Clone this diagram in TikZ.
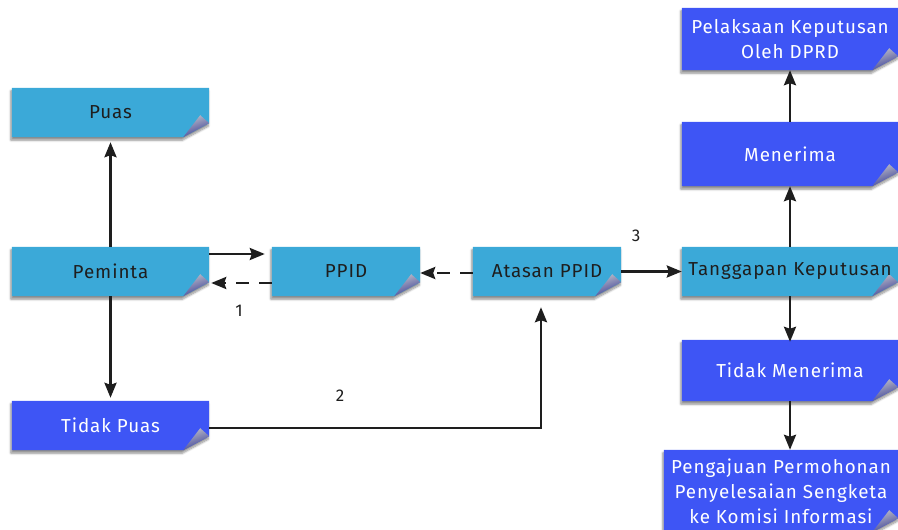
\documentclass[tikz,border=0pt]{standalone}
\usepackage{fontspec}
\setmainfont{Fira Sans}[LetterSpace=5]
\usetikzlibrary{arrows.meta,shadows.blur,backgrounds}
\definecolor{lblue}{RGB}{59,169,216}
\definecolor{dblue}{RGB}{62,85,245}
\definecolor{foldtop}{RGB}{190,190,200}
\definecolor{foldbot}{RGB}{55,60,150}
\definecolor{ink}{RGB}{30,30,30}
\tikzset{
  card/.style={inner sep=0pt, align=center, font=\fontsize{18.8}{25}\selectfont},
  lcard/.style={card, text=ink},
  dcard/.style={card, text=white},
  arr/.style={draw=ink, line width=2.6pt, -{Stealth[length=15pt,width=12pt,inset=2pt]}},
  darr/.style={arr, dash pattern=on 13pt off 10pt},
  lbl/.style={font=\fontsize{17}{17}\selectfont, text=ink},
}
\newcommand{\cardbg}[2]{%
  \fill[#2, blur shadow={shadow xshift=-1pt, shadow yshift=-3pt, shadow blur steps=8, shadow opacity=45}]
    (#1.north west) -- (#1.north east) -- ([yshift=14pt]#1.south east)
    -- ([xshift=-26pt]#1.south east) -- (#1.south west) -- cycle;
  \shade[top color=foldtop, bottom color=foldbot, shading angle=20]
    ([xshift=-26pt]#1.south east) -- ([xshift=-9pt,yshift=22pt]#1.south east)
    -- ([yshift=14pt]#1.south east) -- cycle;
}
\begin{document}
\begin{tikzpicture}[x=1pt,y=-1pt]
\useasboundingbox (0,0) rectangle (898,530);
\node[lcard, minimum width=197pt, minimum height=49pt] (puas) at (110.5,112.5) {Puas};
\node[lcard, minimum width=197pt, minimum height=49pt] (peminta) at (110.5,271.5) {Peminta};
\node[lcard, minimum width=148pt, minimum height=49pt] (ppid) at (346,271.5) {PPID};
\node[lcard, minimum width=148pt, minimum height=49pt] (atasan) at (547,271.5) {Atasan PPID};
\node[lcard, minimum width=216pt, minimum height=49pt] (tangg) at (790,271.5) {Tanggapan Keputusan};
\node[dcard, minimum width=197pt, minimum height=49pt] (tpuas) at (110.5,425.5) {Tidak Puas};
\node[dcard, minimum width=216pt, minimum height=62pt] (pelak) at (790,39) {Pelaksaan Keputusan\\Oleh DPRD};
\node[dcard, minimum width=216pt, minimum height=64pt] (menerima) at (790,154) {Menerima};
\node[dcard, minimum width=216pt, minimum height=61pt] (tmen) at (790,370.5) {Tidak Menerima};
\node[dcard, minimum width=234pt, minimum height=82pt] (peng) at (781,491) {Pengajuan Permohonan\\Penyelesaian Sengketa\\ke Komisi Informasi};
\begin{scope}[on background layer]
\cardbg{puas}{lblue}
\cardbg{peminta}{lblue}
\cardbg{ppid}{lblue}
\cardbg{atasan}{lblue}
\cardbg{tangg}{lblue}
\cardbg{tpuas}{dblue}
\cardbg{pelak}{dblue}
\cardbg{menerima}{dblue}
\cardbg{tmen}{dblue}
\cardbg{peng}{dblue}
\end{scope}
\coordinate (bend) at (541,428);
\draw[arr, shorten >=5pt] (peminta.north) -- (puas.south);
\draw[arr, shorten >=3pt] (peminta.south) -- (tpuas.north);
\draw[arr, shorten >=7pt] ([yshift=17.5pt]peminta.east) -- ([yshift=17.5pt]ppid.west);
\draw[darr, shorten >=2pt] ([yshift=-11.5pt]ppid.west) -- ([yshift=-11.5pt]peminta.east);
\draw[darr] ([yshift=-1.5pt]atasan.west) -- ([yshift=-1.5pt]ppid.east);
\draw[arr] (atasan.east) -- (tangg.west);
\draw[arr, shorten >=11pt] ([yshift=-2.5pt]tpuas.east) -- (bend) -- (bend |- atasan.south);
\draw[arr] (tangg.north) -- (menerima.south);
\draw[arr] (menerima.north) -- (pelak.south);
\draw[arr, shorten >=-2pt] (tangg.south) -- (tmen.north);
\draw[arr] (tmen.south) -- (tmen.south |- peng.north);
\node[lbl] (l1) at (239,311) {1};
\node[lbl] (l2) at (340,396) {2};
\node[lbl] (l3) at (636,236) {3};
\end{tikzpicture}
\end{document}
